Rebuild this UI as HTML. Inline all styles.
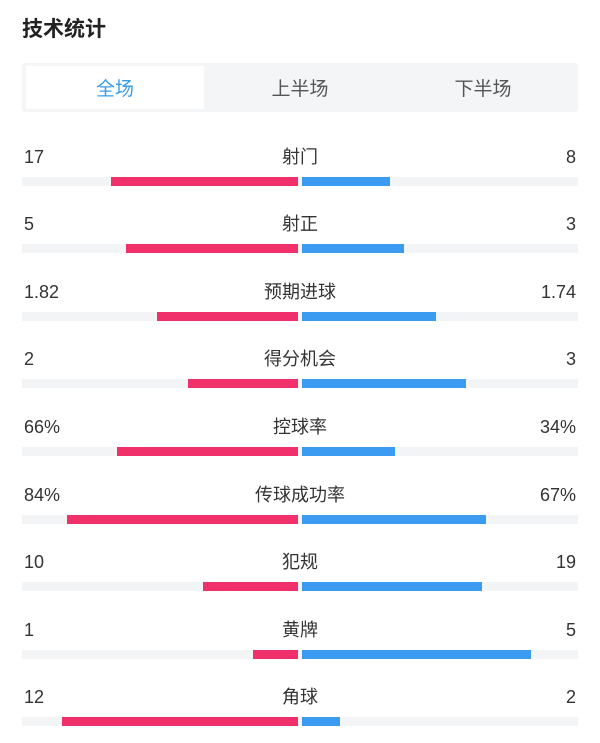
<!DOCTYPE html>
<html><head><meta charset="utf-8"><style>
body{margin:0;width:600px;height:743px;background:#fff;font-family:"Liberation Sans","Noto Sans CJK SC",sans-serif;position:relative;overflow:hidden}
.t{position:absolute;left:22px;top:13px;font-size:21px;font-weight:bold;color:#222}
.tabs{position:absolute;left:22px;top:63px;width:556px;height:49px;background:#f4f5f7;border-radius:3px}
.tab{position:absolute;top:3px;height:43px;line-height:47px;text-align:center;font-size:19px;color:#555;width:178px}
.act{background:#fff;color:#3a9be8}
.row{position:absolute;left:0;width:600px;height:40px}
.l,.r,.c{position:absolute;top:0;font-size:18px;color:#333;line-height:24px}
.l{left:24px}.r{right:24px}.c{left:0;width:600px;text-align:center}
.trk{position:absolute;left:22px;width:556px;top:32px;height:9px;background:#f3f4f6}
.red{position:absolute;top:32px;height:9px;background:#f0306a}
.blu{position:absolute;top:32px;height:9px;background:#3a9bf0;left:302px}
</style></head><body>
<div class="t">技术统计</div>
<div class="tabs">
<div class="tab act" style="left:4px">全场</div>
<div class="tab" style="left:189px">上半场</div>
<div class="tab" style="left:372px">下半场</div>
</div>
<div class="row" style="top:145px"><span class="l">17</span><span class="c">射门</span><span class="r">8</span><div class="trk"></div><div class="red" style="left:111px;width:187px"></div><div class="blu" style="width:88px"></div></div>
<div class="row" style="top:212px"><span class="l">5</span><span class="c">射正</span><span class="r">3</span><div class="trk"></div><div class="red" style="left:126px;width:172px"></div><div class="blu" style="width:102px"></div></div>
<div class="row" style="top:280px"><span class="l">1.82</span><span class="c">预期进球</span><span class="r">1.74</span><div class="trk"></div><div class="red" style="left:157px;width:141px"></div><div class="blu" style="width:134px"></div></div>
<div class="row" style="top:347px"><span class="l">2</span><span class="c">得分机会</span><span class="r">3</span><div class="trk"></div><div class="red" style="left:188px;width:110px"></div><div class="blu" style="width:164px"></div></div>
<div class="row" style="top:415px"><span class="l">66%</span><span class="c">控球率</span><span class="r">34%</span><div class="trk"></div><div class="red" style="left:117px;width:181px"></div><div class="blu" style="width:93px"></div></div>
<div class="row" style="top:483px"><span class="l">84%</span><span class="c">传球成功率</span><span class="r">67%</span><div class="trk"></div><div class="red" style="left:67px;width:231px"></div><div class="blu" style="width:184px"></div></div>
<div class="row" style="top:550px"><span class="l">10</span><span class="c">犯规</span><span class="r">19</span><div class="trk"></div><div class="red" style="left:203px;width:95px"></div><div class="blu" style="width:180px"></div></div>
<div class="row" style="top:618px"><span class="l">1</span><span class="c">黄牌</span><span class="r">5</span><div class="trk"></div><div class="red" style="left:253px;width:45px"></div><div class="blu" style="width:229px"></div></div>
<div class="row" style="top:685px"><span class="l">12</span><span class="c">角球</span><span class="r">2</span><div class="trk"></div><div class="red" style="left:62px;width:236px"></div><div class="blu" style="width:38px"></div></div>
</body></html>
